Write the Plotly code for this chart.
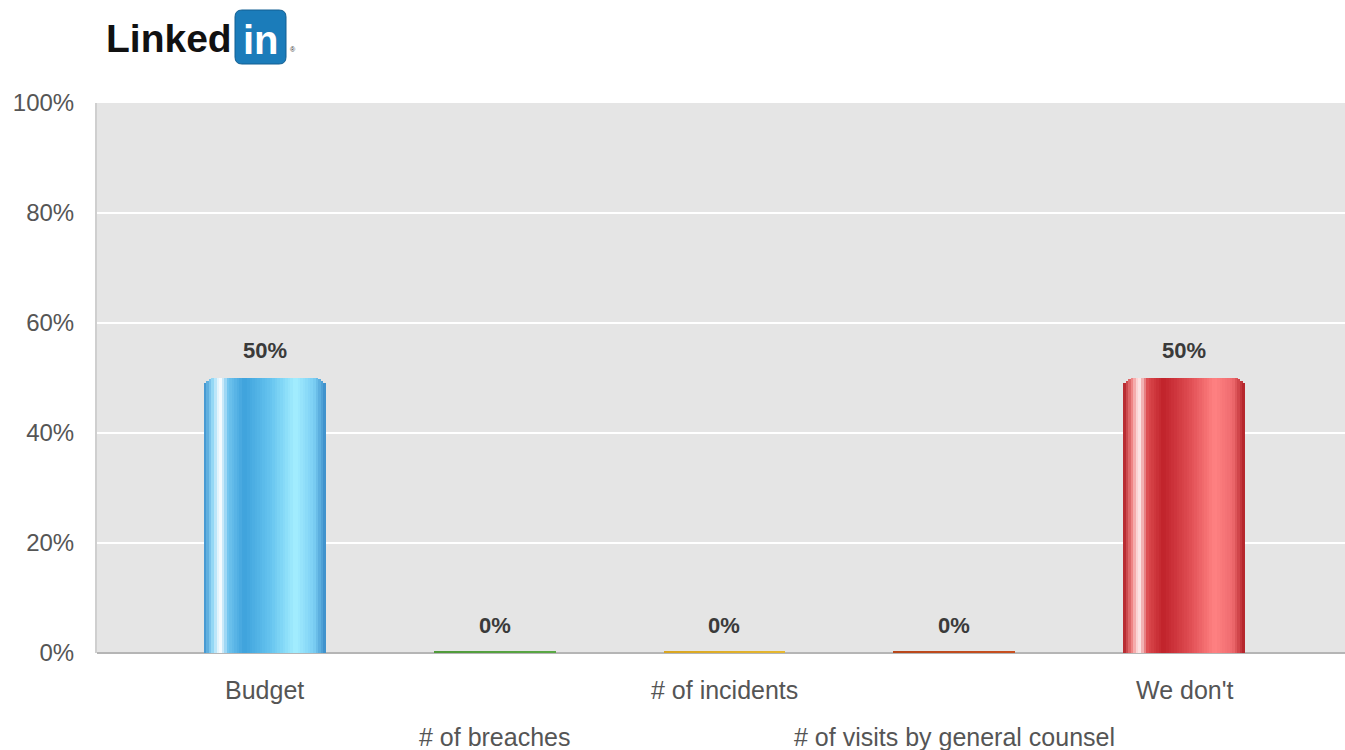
import math
import plotly.graph_objects as go

categories = ["Budget", "# of breaches", "# of incidents", "# of visits by general counsel", "We don't"]
values = [50, 0, 0, 0, 50]
tick_vals = [0, 20, 40, 60, 80, 100]
tick_text = ["0%", "20%", "40%", "60%", "80%", "100%"]

# styling
edge_colors = ["#3a8cc8", "#4f9a3a", "#d9a520", "#b8461a", "#b01f25"]
stops = {
    "Budget": [(0, "#3b8fcc"), (0.07, "#8fd6f5"), (0.13, "#ffffff"), (0.2, "#70c4ee"),
               (0.33, "#3ea2dc"), (0.55, "#66c4ef"), (0.75, "#a4eeff"), (0.9, "#7ccff4"), (1, "#3a8cc8")],
    "# of breaches": [(0, "#4f9a3a"), (1, "#5aa845")],
    "# of incidents": [(0, "#d9a520"), (1, "#e6b830")],
    "# of visits by general counsel": [(0, "#b8461a"), (1, "#c85020")],
    "We don't": [(0, "#b01f25"), (0.07, "#ee8080"), (0.13, "#fff0f0"), (0.2, "#dc4a4e"),
                 (0.33, "#c0222a"), (0.55, "#e04e54"), (0.75, "#ff8282"), (0.9, "#ee6a6e"), (1, "#b01f25")],
}
FONT = "Liberation Sans, Arial, sans-serif"


def hex2rgb(h):
    h = h.lstrip("#")
    return tuple(int(h[i:i + 2], 16) for i in (0, 2, 4))


def interp(st, f):
    for (f0, c0), (f1, c1) in zip(st, st[1:]):
        if f0 <= f <= f1:
            t = 0 if f1 == f0 else (f - f0) / (f1 - f0)
            a, b = hex2rgb(c0), hex2rgb(c1)
            return "rgb(%d,%d,%d)" % tuple(round(a[i] + (b[i] - a[i]) * t) for i in range(3))
    return st[-1][1]


BW = 0.53
BAR_PX = BW * 230          # approximate bar width in pixels
PX_PER_UNIT = 550 / 100    # plot height in pixels per percent
R = 13                     # corner radius in pixels
disp = [max(v, 0.45) for v in values]

fig = go.Figure()
fig.add_trace(go.Bar(x=list(range(len(categories))), y=disp, width=BW,
                     marker=dict(color=edge_colors, line=dict(width=0), cornerradius=R),
                     hoverinfo="skip", showlegend=False))
N = 48
for i in range(N):
    f = (i + 0.5) / N
    cols = [interp(stops[c], f) for c in categories]
    d = min(i, N - 1 - i) * BAR_PX / N + BAR_PX / N  # outer distance of stripe from bar edge
    drop_px = R - math.sqrt(max(R * R - (R - d) ** 2, 0)) if d < R else 0
    ys = [max(h - (drop_px / PX_PER_UNIT if v > 0 else 0), 0) for h, v in zip(disp, values)]
    w = BW / N
    fig.add_trace(go.Bar(x=list(range(len(categories))), y=ys, width=w * 1.04,
                         offset=-BW / 2 + i * w,
                         marker=dict(color=cols, line=dict(width=0)),
                         hoverinfo="skip", showlegend=False))

for i, (c, v) in enumerate(zip(categories, values)):
    fig.add_annotation(x=i, y=v, text="<b>%d%%</b>" % v, showarrow=False, yanchor="middle",
                       yshift=28, font=dict(family=FONT, size=22, color="#3a3a3a"))
    fig.add_annotation(x=i, xref="x", y=0, yref="paper", text=c, showarrow=False,
                       yanchor="middle", yshift=-37 if i % 2 == 0 else -84,
                       font=dict(family=FONT, size=25, color="#555555"))


# LinkedIn logo
def px(x):
    return (x - 97) / 1248


def py(y):
    return (653 - y) / 550


fig.add_annotation(x=px(104), y=py(38), xref="paper", yref="paper", text="<b>Linked</b>",
                   showarrow=False, xanchor="left", yanchor="middle",
                   font=dict(family=FONT, size=39, color="#111111"))
x0, x1, y0, y1, r = 235, 286, 10, 64, 7
path = ("M {a},{b} L {c},{b} Q {d},{b} {d},{e} L {d},{f} Q {d},{g} {c},{g} L {a},{g} "
        "Q {h},{g} {h},{f} L {h},{e} Q {h},{b} {a},{b} Z").format(
    a=px(x0 + r), b=py(y0), c=px(x1 - r), d=px(x1), e=py(y0 + r), f=py(y1 - r), g=py(y1), h=px(x0))
fig.add_shape(type="path", path=path, xref="paper", yref="paper",
              fillcolor="#1b7cba", line=dict(color="#135f92", width=1), layer="above")
fig.add_annotation(x=px(261), y=py(40), xref="paper", yref="paper", text="<b>in</b>",
                   showarrow=False, xanchor="center", yanchor="middle",
                   font=dict(family=FONT, size=40, color="#ffffff"))
fig.add_annotation(x=px(288), y=py(50), xref="paper", yref="paper", text="®",
                   showarrow=False, xanchor="left", yanchor="middle",
                   font=dict(family=FONT, size=7, color="#333333"))

fig.update_layout(
    width=1345, height=750,
    margin=dict(l=97, r=0, t=103, b=97),
    paper_bgcolor="white", plot_bgcolor="#e5e5e5",
    barmode="overlay", bargap=0,
    xaxis=dict(range=[-0.73, 4.7], showticklabels=False, showgrid=False, zeroline=False,
               showline=False, fixedrange=True),
    yaxis=dict(range=[0, 100], tickvals=tick_vals, ticktext=tick_text, showgrid=True,
               gridcolor="#ffffff", gridwidth=2, zeroline=True, zerolinecolor="#b5b5b5",
               zerolinewidth=2, ticks="", ticklabelstandoff=16,
               tickfont=dict(family=FONT, size=24, color="#555555"),
               showline=True, linecolor="#cfcfcf", linewidth=2, fixedrange=True),
)

fig.write_html("out.html", config={"displayModeBar": False},
               post_script="document.body.style.margin='0';document.body.style.overflow='hidden';")
